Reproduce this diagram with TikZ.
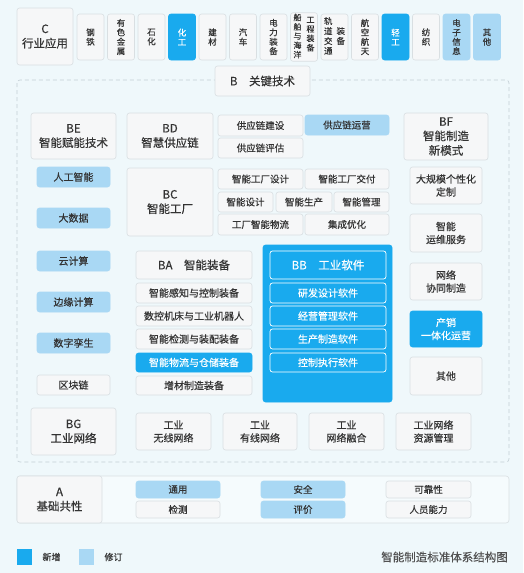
\documentclass[tikz,border=0pt]{standalone}
\usepackage{fontspec}
\setmainfont{Noto Sans CJK SC}[FakeBold=0.45]
\definecolor{bgc}{HTML}{EFF8FB}
\definecolor{wf}{HTML}{F6F7F8}
\definecolor{bdc}{HTML}{D9DFE2}
\definecolor{nbc}{HTML}{19AAEE}
\definecolor{rbc}{HTML}{A9D8F4}
\definecolor{tc}{HTML}{333333}
\definecolor{dashc}{HTML}{C3CED4}
\newcommand\vc[1]{\begin{tabular}[c]{@{}c@{}}#1\end{tabular}}
\newcommand\mybox[7]{\node[#2, minimum width=#5-#3, minimum height=#6-#4] (#1) at ({(#3+#5)/2},{(#4+#6)/2}) {#7};}
\begin{document}
\begin{tikzpicture}[x=1pt,y=-1pt,
  wb/.style={draw=bdc, fill=wf, rounded corners=2.5pt, line width=0.6pt, text=tc, inner sep=1pt},
  nb/.style={draw=nbc, fill=nbc, rounded corners=2.5pt, line width=0.6pt, text=white, inner sep=1pt},
  rb/.style={draw=rbc, fill=rbc, rounded corners=2.5pt, line width=0.6pt, text=tc, inner sep=1pt},
  ob/.style={draw=white, fill=nbc, rounded corners=2.5pt, line width=0.7pt, text=white, inner sep=1pt},
  big/.style={font=\fontsize{11.5}{14.5}\selectfont, align=center},
  sm/.style={font=\fontsize{9.5}{12}\selectfont, align=center},
  md/.style={font=\fontsize{10}{13}\selectfont, align=center},
  vt/.style={font=\fontsize{8.5}{9.4}\selectfont, align=center},
  vs/.style={font=\fontsize{8}{8.7}\selectfont, align=center}]
\fill[bgc] (0,0) rectangle (523,573);
\useasboundingbox (0,0) rectangle (523,573);

% C row
\mybox{C}{wb,big}{17}{8}{73}{65}{C\\行业应用}
\mybox{c1}{wb,vt}{77}{14}{104}{60}{钢\\铁}
\mybox{c2}{wb,vt}{107.5}{14}{134.5}{60}{有\\色\\金\\属}
\mybox{c3}{wb,vt}{138}{14}{165}{60}{石\\化}
\mybox{c4}{nb,vt}{168.5}{14}{195.5}{60}{化\\工}
\mybox{c5}{wb,vt}{199}{14}{226}{60}{建\\材}
\mybox{c6}{wb,vt}{229.5}{14}{256.5}{60}{汽\\车}
\mybox{c7}{wb,vt}{260}{14}{287}{60}{电\\力\\装\\备}
\mybox{c8}{wb,vs}{290.5}{14}{317.5}{60}{\vc{船\\舶\\与\\海\\洋}\hspace{5pt}\raisebox{2pt}{\vc{工\\程\\装\\备}}}
\mybox{c9}{wb,vt}{321}{14}{348}{60}{\vc{轨\\道\\交\\通}\hspace{4pt}\vc{装\\备}}
\mybox{c10}{wb,vt}{351.5}{14}{378.5}{60}{航\\空\\航\\天}
\mybox{c11}{nb,vt}{382}{14}{409}{60}{轻\\工}
\mybox{c12}{wb,vt}{412.5}{14}{439.5}{60}{纺\\织}
\mybox{c13}{rb,vt}{443}{14}{470}{60}{电\\子\\信\\息}
\mybox{c14}{rb,vt}{473.5}{14}{500.5}{60}{其\\他}

% B frame
\draw[dashc, line width=0.6pt, dash pattern=on 4pt off 3pt, rounded corners=3pt] (17,80) rectangle (509,462);
\mybox{B}{wb,big}{215}{66}{310}{96}{B\quad 关键技术}

% BE
\mybox{BE}{wb,big}{31}{113}{116}{159}{BE\\智能赋能技术}
\mybox{be1}{rb,md}{37}{167}{110}{187}{人工智能}
\mybox{be2}{rb,md}{37}{208}{110}{228}{大数据}
\mybox{be3}{rb,md}{37}{251}{110}{271}{云计算}
\mybox{be4}{rb,md}{37}{292}{110}{312}{边缘计算}
\mybox{be5}{rb,md}{37}{333}{110}{353}{数字孪生}
\mybox{be6}{wb,md}{37}{375}{110}{395}{区块链}

% BD
\mybox{BD}{wb,big}{127}{113}{213}{159}{BD\\智慧供应链}
\mybox{bd1}{wb,sm}{218}{115}{303}{136}{供应链建设}
\mybox{bd2}{wb,sm}{218}{138}{303}{158}{供应链评估}
\mybox{bd3}{rb,sm}{305}{115}{389}{135}{供应链运营}

% BC
\mybox{BC}{wb,big}{127}{168}{213}{236}{BC\\智能工厂}
\mybox{bc1}{wb,sm}{218}{169}{303}{189}{智能工厂设计}
\mybox{bc2}{wb,sm}{305}{169}{389}{189}{智能工厂交付}
\mybox{bc3}{wb,sm}{218}{192}{273}{212}{智能设计}
\mybox{bc4}{wb,sm}{276}{192}{332}{212}{智能生产}
\mybox{bc5}{wb,sm}{334}{192}{389}{212}{智能管理}
\mybox{bc6}{wb,sm}{218}{214}{303}{235}{工厂智能物流}
\mybox{bc7}{wb,sm}{305}{214}{389}{235}{集成优化}

% BF
\mybox{BF}{wb,big}{404}{113}{488}{160}{BF\\智能制造\\新模式}
\mybox{bf1}{wb,md}{410}{167}{482}{204}{大规模个性化\\定制}
\mybox{bf2}{wb,md}{410}{214}{482}{252}{智能\\运维服务}
\mybox{bf3}{wb,md}{410}{263}{482}{300}{网络\\协同制造}
\mybox{bf4}{nb,md}{410}{311}{482}{347}{产销\\一体化运营}
\mybox{bf5}{wb,md}{410}{357}{482}{395}{其他}

% BA
\mybox{BA}{wb,big}{136}{251}{252}{279}{BA\quad 智能装备}
\mybox{ba1}{wb,md}{136}{283}{252}{303}{智能感知与控制装备}
\mybox{ba2}{wb,md}{136}{306}{252}{326}{数控机床与工业机器人}
\mybox{ba3}{wb,md}{136}{329}{252}{349}{智能检测与装配装备}
\mybox{ba4}{nb,md}{136}{353}{252}{372}{智能物流与仓储装备}
\mybox{ba5}{wb,md}{136}{376}{252}{395}{增材制造装备}

% BB
\mybox{BBp}{nb}{263}{245}{392}{402}{}
\mybox{BB}{ob,big}{270}{251}{386}{279}{BB\quad 工业软件}
\mybox{bb1}{ob,md}{270}{283}{386}{303}{研发设计软件}
\mybox{bb2}{ob,md}{270}{306}{386}{326}{经营管理软件}
\mybox{bb3}{ob,md}{270}{329}{386}{349}{生产制造软件}
\mybox{bb4}{ob,md}{270}{353}{386}{372}{控制执行软件}

% BG
\mybox{BG}{wb,big}{31}{408}{116}{455}{BG\\工业网络}
\mybox{bg1}{wb,md}{136}{413}{211}{450}{工业\\无线网络}
\mybox{bg2}{wb,md}{223}{413}{297}{450}{工业\\有线网络}
\mybox{bg3}{wb,md}{309}{413}{384}{450}{工业\\网络融合}
\mybox{bg4}{wb,md}{396}{413}{471}{450}{工业网络\\资源管理}

% A
\draw[bdc, line width=0.6pt, fill=bgc!60!white, rounded corners=3pt] (17,476) rectangle (509,523);
\mybox{A}{wb,big}{17}{476}{102}{523}{A\\基础共性}
\mybox{a1}{rb,sm}{136}{481}{220}{498}{通用}
\mybox{a2}{wb,sm}{136}{501}{220}{518}{检测}
\mybox{a3}{rb,sm}{261}{481}{345}{498}{安全}
\mybox{a4}{rb,sm}{261}{501}{345}{518}{评价}
\mybox{a5}{wb,sm}{386}{481}{471}{498}{可靠性}
\mybox{a6}{wb,sm}{386}{501}{471}{518}{人员能力}

% legend
\fill[nbc] (17,549) rectangle (32,565);
\node[text=tc, font=\fontsize{9}{11}\selectfont, anchor=west] (ln) at (39,557) {新增};
\fill[rbc] (79,549) rectangle (94,565);
\node[text=tc, font=\fontsize{9}{11}\selectfont, anchor=west] (lr) at (101,557) {修订};
\node[text=tc!85!white, font=\fontsize{11.5}{14}\selectfont, anchor=east, inner sep=0pt] (title) at (508,557) {智能制造标准体系结构图};
\end{tikzpicture}
\end{document}
